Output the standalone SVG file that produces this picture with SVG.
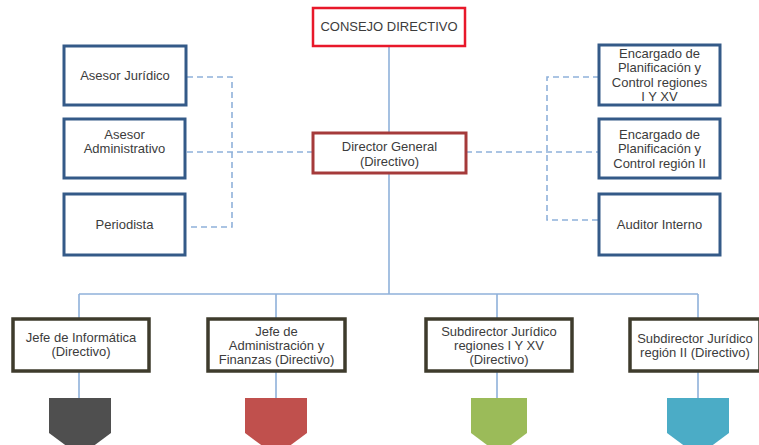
<svg xmlns="http://www.w3.org/2000/svg" width="759" height="445" viewBox="0 0 759 445">
<style>
text{font-family:"Liberation Sans",Arial,sans-serif;font-size:13px;fill:#3c3c3c;text-anchor:middle}
.side{fill:#fff;stroke:#345a88;stroke-width:3}
.sub{fill:#fff;stroke:#3e3b2c;stroke-width:3.5}
.ln{fill:none;stroke:#8fb1da;stroke-width:1.6}
.dash{fill:none;stroke:#8fb1da;stroke-width:1.6;stroke-dasharray:6 4}
</style>
<rect width="759" height="445" fill="#fff"/>
<g id="connectors">
<path class="ln" d="M389 46V294"/>
<path class="ln" d="M79 294H698"/>
<path class="ln" d="M79 294V319M276 294V319M497 294V319M698 294V319"/>
<path class="ln" d="M79 371V398M276 371V398M497 371V398M698 371V398"/>
<path class="dash" d="M187 77H232V227H187M187 152H313"/>
<path class="dash" d="M599 77H547V220H599M466 152H599"/>
</g>
<g id="consejo"><rect x="313" y="8" width="152" height="38" fill="#fff" stroke="#e8182a" stroke-width="2.5"/><text x="389" y="31">CONSEJO DIRECTIVO</text></g>
<g id="director"><rect x="313" y="133" width="153" height="40" fill="#fff" stroke="#a53a3a" stroke-width="3"/><text x="389.5" y="151">Director General</text><text x="389.5" y="166">(Directivo)</text></g>
<g id="asesor-juridico"><rect class="side" x="64" y="46" width="122" height="59"/><text x="125" y="80">Asesor Jurídico</text></g>
<g id="asesor-administrativo"><rect class="side" x="64" y="119" width="121" height="59"/><text x="124.5" y="139">Asesor</text><text x="124.5" y="153">Administrativo</text></g>
<g id="periodista"><rect class="side" x="64" y="194" width="121" height="61"/><text x="124.5" y="229">Periodista</text></g>
<g id="encargado-1"><rect class="side" x="599" y="45" width="121" height="60"/><text x="659.5" y="58">Encargado de</text><text x="659.5" y="72">Planificación y</text><text x="659.5" y="87">Control regiones</text><text x="659.5" y="101">I Y XV</text></g>
<g id="encargado-2"><rect class="side" x="599" y="119" width="121" height="59"/><text x="659.5" y="139">Encargado de</text><text x="659.5" y="153">Planificación y</text><text x="659.5" y="168">Control región II</text></g>
<g id="auditor"><rect class="side" x="599" y="194" width="121" height="61"/><text x="659.5" y="229">Auditor Interno</text></g>
<g id="jefe-informatica"><rect class="sub" x="13" y="319" width="136" height="52"/><text x="81" y="342">Jefe de Informática</text><text x="81" y="356">(Directivo)</text></g>
<g id="jefe-administracion"><rect class="sub" x="208" y="319" width="137" height="52"/><text x="276.5" y="336">Jefe de</text><text x="276.5" y="350">Administración y</text><text x="276.5" y="364">Finanzas (Directivo)</text></g>
<g id="subdirector-1"><rect class="sub" x="426" y="319" width="146" height="52"/><text x="499" y="336">Subdirector Jurídico</text><text x="499" y="350">regiones I Y XV</text><text x="499" y="364">(Directivo)</text></g>
<g id="subdirector-2"><rect class="sub" x="630" y="319" width="130" height="52"/><text x="695" y="343">Subdirector Jurídico</text><text x="695" y="357">región II (Directivo)</text></g>
<g id="shape-gray"><path d="M49 398H111V433L80 456L49 433Z" fill="#4f4f4f"/></g>
<g id="shape-red"><path d="M245 398H307V433L276 456L245 433Z" fill="#c0504d"/></g>
<g id="shape-green"><path d="M471 398H527V433L499 454L471 433Z" fill="#9bbb59"/></g>
<g id="shape-blue"><path d="M667 398H729V433L698 456L667 433Z" fill="#4bacc6"/></g>
</svg>
